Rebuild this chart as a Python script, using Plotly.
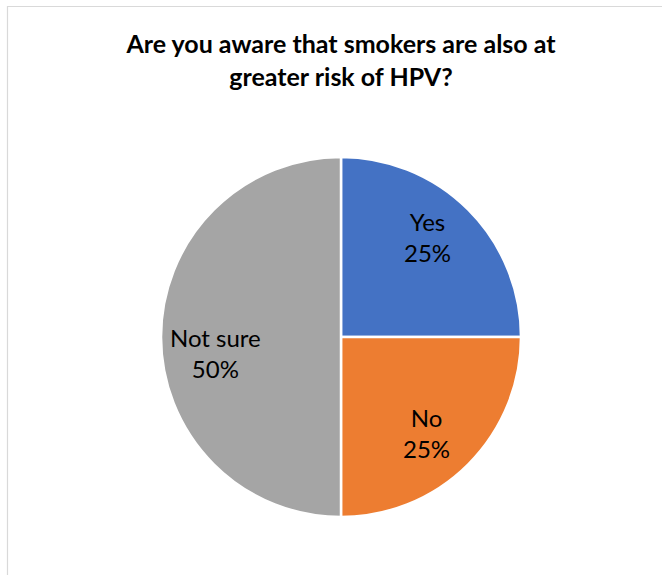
import numpy as np
import plotly.graph_objects as go

# Survey responses
categories = ["Yes", "No", "Not sure"]
shares = [25, 25, 50]
colors = ["#4472C4", "#ED7D31", "#A5A5A5"]

title_text = "Are you aware that smokers are also at<br>greater risk of HPV?"

W, H = 662, 575
FONT = "Lato, Open Sans, sans-serif"

# Pie geometry (pixels)
cx_px, cy_px, r_px = 341, 337, 180
label_radius = 0.72
# small best-fit nudges for the data labels (pixels)
label_nudge = {"Yes": (-5, 8), "No": (-6, -4), "Not sure": (4, -16)}

fig = go.Figure(
    go.Pie(
        labels=categories,
        values=shares,
        sort=False,
        direction="clockwise",
        rotation=0,
        marker=dict(colors=colors, line=dict(color="white", width=2.5)),
        textinfo="none",
        showlegend=False,
        hoverinfo="label+percent",
        domain=dict(
            x=[(cx_px - r_px) / W, (cx_px + r_px) / W],
            y=[(H - cy_px - r_px) / H, (H - cy_px + r_px) / H],
        ),
    )
)

# Data labels placed along each slice's mid-angle (clockwise from 12 o'clock)
vals = np.array(shares, dtype=float)
total = vals.sum()
ends = np.cumsum(vals) / total * 2 * np.pi
mids = ends - vals / total * np.pi
annotations = []
for name, v, theta in zip(categories, vals, mids):
    dx = label_radius * r_px * np.sin(theta)
    dy = label_radius * r_px * np.cos(theta)
    nx, ny = label_nudge.get(name, (0, 0))
    annotations.append(
        dict(
            x=(cx_px + dx) / W,
            y=(H - cy_px + dy) / H,
            xref="paper",
            yref="paper",
            text=f"{name}<br>{v / total:.0%}",
            showarrow=False,
            xanchor="center",
            yanchor="middle",
            xshift=nx,
            yshift=ny,
            font=dict(family=FONT, size=24, color="#000000"),
        )
    )

fig.update_layout(
    width=W,
    height=H,
    margin=dict(l=0, r=0, t=0, b=0),
    paper_bgcolor="white",
    plot_bgcolor="white",
    title=dict(
        text="<b>" + title_text + "</b>",
        x=341 / W,
        xanchor="center",
        y=1 - 53 / H,
        yanchor="middle",
        font=dict(family=FONT, size=25, color="#000000"),
    ),
    annotations=annotations,
    shapes=[
        dict(
            type="rect",
            xref="paper",
            yref="paper",
            x0=7.5 / W,
            x1=1.2,
            y0=-0.2,
            y1=1 - 6.5 / H,
            line=dict(color="#D9D9D9", width=1.2),
            fillcolor="rgba(0,0,0,0)",
            layer="below",
        )
    ],
)

fig.write_html("out.html")
